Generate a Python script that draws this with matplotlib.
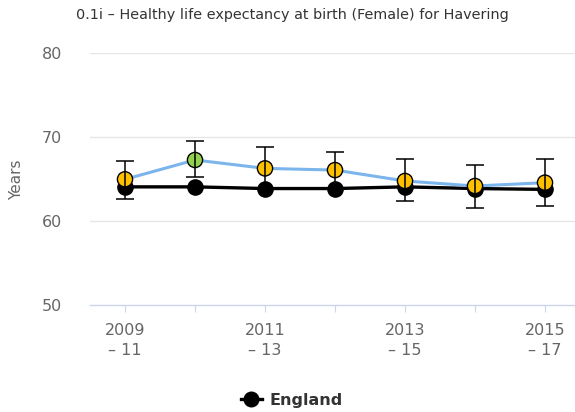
import matplotlib
matplotlib.use("Agg")
import matplotlib.pyplot as plt
from matplotlib.lines import Line2D

periods = ["2009\n– 11", "2010\n– 12", "2011\n– 13", "2012\n– 14", "2013\n– 15", "2014\n– 16", "2015\n– 17"]
havering = [65.0, 67.3, 66.3, 66.1, 64.8, 64.2, 64.6]
havering_lower = [62.6, 65.3, 63.9, 63.9, 62.4, 61.6, 61.8]
havering_upper = [67.2, 69.6, 68.8, 68.3, 67.4, 66.7, 67.4]
havering_colors = ["#FFC000", "#92D050", "#FFC000", "#FFC000", "#FFC000", "#FFC000", "#FFC000"]
england = [64.1, 64.1, 63.9, 63.9, 64.1, 63.9, 63.8]

W, H = 575, 412
fig = plt.figure(figsize=(W / 100, H / 100), dpi=100)
ax = fig.add_axes([90 / W, (H - 305.3) / H, 490 / W, 252 / H])

x = list(range(len(periods)))

ax.plot(x, england, color="black", lw=2.4, zorder=3)
ax.scatter(x, england, s=120, color="black", zorder=4)

ax.plot(x, havering, color="#7CB5EC", lw=2.2, zorder=5)
ax.scatter(x, havering, s=120, c=havering_colors, edgecolors="black", linewidths=1.0, zorder=6)

err_lo = [v - l for v, l in zip(havering, havering_lower)]
err_hi = [u - v for v, u in zip(havering, havering_upper)]
ax.errorbar(x, havering, yerr=[err_lo, err_hi], fmt="none", ecolor="black",
            elinewidth=1.1, capsize=6.5, capthick=1.1, zorder=7)

ax.set_xlim(-0.5, len(periods) - 0.5)
ax.set_ylim(50, 80)
ax.set_yticks([50, 60, 70, 80])
ax.set_xticks(x)
ax.set_xticklabels([p if i % 2 == 0 else "" for i, p in enumerate(periods)],
                   fontsize=11.5, color="#666666", linespacing=1.35)
ax.tick_params(axis="x", length=5, color="#ccd6eb", pad=8)
ax.tick_params(axis="y", length=0, pad=20, labelsize=11.5, labelcolor="#666666")

for v in [60, 70, 80]:
    ax.axhline(v, color="#e6e6e6", lw=1.0, zorder=0)
for side in ["top", "right", "left"]:
    ax.spines[side].set_visible(False)
ax.spines["bottom"].set_color("#ccd6eb")
ax.spines["bottom"].set_linewidth(1.0)

ax.set_ylabel("Years", fontsize=11, color="#666666")
ax.yaxis.set_label_coords(-(90 - 24) / 490, 0.5)

fig.text(292 / W, 1 - 15 / H, "0.1i – Healthy life expectancy at birth (Female) for Havering",
         ha="center", va="center", fontsize=10.4, color="#333333")

handle = Line2D([], [], color="black", lw=2.4, marker="o", markersize=10.5)
fig.legend([handle], ["England"], loc="center", bbox_to_anchor=(292 / W, 11.5 / H),
           frameon=False, prop={"weight": "bold", "size": 11.5}, handlelength=1.3,
           handletextpad=0.5, labelcolor="#333333")

fig.savefig("out.png", dpi=100)
